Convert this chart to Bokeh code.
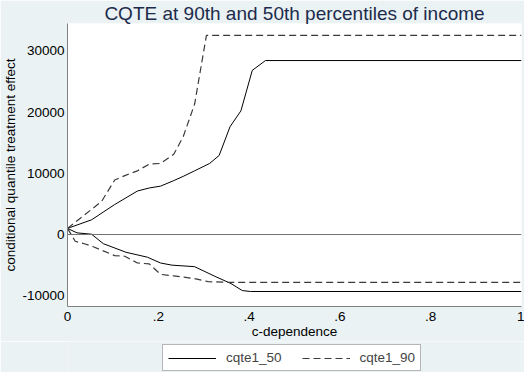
from bokeh.plotting import figure
from bokeh.layouts import column
from bokeh.models import Range1d, Legend, LegendItem, Span, FixedTicker
from bokeh.embed import file_html
from bokeh.resources import INLINE

# ---- data ----
c_50_upper = [0, 0.053, 0.104, 0.154, 0.18, 0.205, 0.234, 0.255, 0.28, 0.313, 0.334, 0.358, 0.382, 0.407, 0.436, 1.0]
v_50_upper = [1000, 2400, 4900, 7100, 7600, 7900, 8800, 9500, 10400, 11600, 12900, 17600, 20200, 26800, 28400, 28400]

c_50_lower = [0, 0.021, 0.053, 0.079, 0.129, 0.176, 0.205, 0.23, 0.28, 0.324, 0.36, 0.385, 0.403, 1.0]
v_50_lower = [1000, 270, 50, -1500, -2900, -3700, -4650, -5000, -5250, -6800, -8000, -9150, -9300, -9300]

c_90_upper = [0, 0.075, 0.104, 0.129, 0.154, 0.18, 0.205, 0.234, 0.255, 0.28, 0.306, 1.0]
v_90_upper = [1000, 5400, 8900, 9700, 10400, 11500, 11600, 13100, 16000, 21300, 32500, 32500]

c_90_lower = [0, 0.017, 0.039, 0.057, 0.104, 0.126, 0.154, 0.18, 0.205, 0.234, 0.28, 0.31, 0.356, 1.0]
v_90_lower = [1000, -1100, -1550, -2000, -3450, -3550, -4650, -4800, -6500, -6750, -7200, -7700, -7800, -7800]

series_labels = ["cqte1_50", "cqte1_90"]

x_ticks = [0, 0.2, 0.4, 0.6, 0.8, 1.0]
x_tick_labels = ["0", ".2", ".4", ".6", ".8", "1"]
y_ticks = [-10000, 0, 10000, 20000, 30000]
y_tick_labels = ["-10000", "0", "10000", "20000", "30000"]

FONT = "Liberation Sans"
BG = "#EAF2F3"
W = 524

p = figure(width=W, height=341, output_backend="svg", toolbar_location=None,
           x_range=Range1d(0, 1), y_range=Range1d(-11750, 34450),
           min_border_left=66, min_border_right=3, min_border_top=21, min_border_bottom=35,
           background_fill_color="white", border_fill_color=BG, outline_line_color=None)

p.title.text = "CQTE at 90th and 50th percentiles of income"
p.title.text_font = FONT
p.title.text_font_size = "19px"
p.title.text_font_style = "normal"
p.title.text_color = "#1c2b4b"
p.title.align = "center"
p.title.standoff = 0
p.title.offset = 0

p.grid.visible = False

for ax in (p.xaxis[0], p.yaxis[0]):
    ax.major_tick_line_color = None
    ax.minor_tick_line_color = None
    ax.major_tick_out = 0
    ax.major_tick_in = 0
    ax.axis_line_color = "#808080"
    ax.axis_line_width = 1
    ax.major_label_text_font = FONT
    ax.major_label_text_font_size = "13.5px"
    ax.major_label_text_color = "black"
    ax.axis_label_text_font = FONT
    ax.axis_label_text_font_size = "13.5px"
    ax.axis_label_text_font_style = "normal"
    ax.axis_label_text_color = "black"

p.xaxis.ticker = FixedTicker(ticks=x_ticks)
p.xaxis.major_label_overrides = dict(zip(x_ticks, x_tick_labels))
p.xaxis.axis_label = "c-dependence"
p.xaxis.major_label_standoff = 5
p.xaxis.axis_label_standoff = 0

p.yaxis.ticker = FixedTicker(ticks=y_ticks)
p.yaxis.major_label_overrides = dict(zip(y_ticks, y_tick_labels))
p.yaxis.axis_label = "conditional quantile treatment effect"
p.yaxis.major_label_standoff = 3
p.yaxis.axis_label_standoff = 1

p.add_layout(Span(location=0, dimension="width", line_color="#707070", line_width=1))

solid = dict(line_color="black", line_width=1)
dashed = dict(line_color="#3a3a3a", line_width=1.2, line_dash="7 4")

p.line(c_50_upper, v_50_upper, **solid)
p.line(c_50_lower, v_50_lower, **solid)
p.line(c_90_upper, v_90_upper, **dashed)
p.line(c_90_lower, v_90_lower, **dashed)

# legend strip below the plot (its own small figure so the box is not clipped);
# the same series are drawn there outside its visible range, only to feed the legend
lf = figure(width=W, height=31, output_backend="svg", toolbar_location=None,
            x_range=Range1d(0, 1), y_range=Range1d(-1, 0),
            min_border=0, background_fill_color=BG, border_fill_color=BG,
            outline_line_color=None)
lf.axis.visible = False
lf.grid.visible = False
l1 = lf.line(c_50_upper, v_50_upper, **solid)
l2 = lf.line(c_90_upper, v_90_upper, **dashed)
legend = Legend(items=[LegendItem(label=series_labels[0], renderers=[l1]),
                       LegendItem(label=series_labels[1], renderers=[l2])],
                orientation="horizontal", location=(95, 1),
                border_line_color="#6e6e6e", border_line_width=1,
                background_fill_color="white", background_fill_alpha=1,
                label_text_font=FONT, label_text_font_size="13.5px",
                glyph_width=48, glyph_height=14, label_standoff=10, spacing=20,
                padding=5, margin=0)
lf.add_layout(legend, "center")

layout = column(p, lf, spacing=0)
open("out.html", "w").write(file_html(layout, INLINE))
